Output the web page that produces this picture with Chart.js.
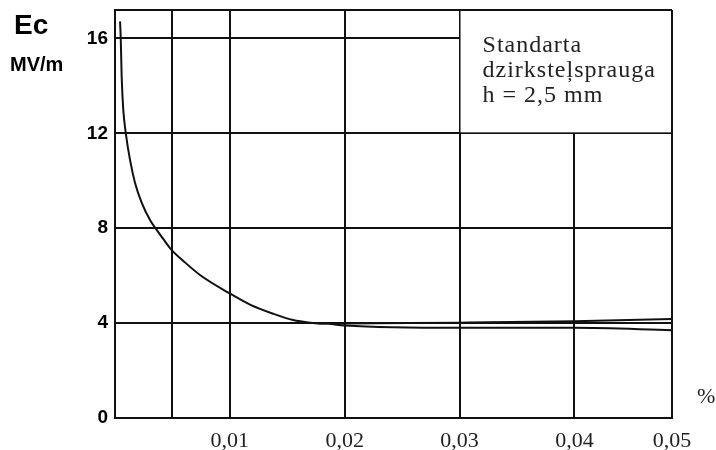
<!DOCTYPE html>
<html>
<head>
<meta charset="utf-8">
<script src="https://cdn.jsdelivr.net/npm/chart.js@4"></script>
<style>
html,body{margin:0;padding:0;background:#fff;}
#wrap{width:716px;height:450px;position:relative;}
</style>
</head>
<body>
<div id="wrap"><canvas id="c" width="716" height="450"></canvas></div>
<script>
// Data
const mainX = [0.00044, 0.00050, 0.00058, 0.00072, 0.00096, 0.0013, 0.00174, 0.00233, 0.00305, 0.00363, 0.0042, 0.0049, 0.0060, 0.0074, 0.00996, 0.0118, 0.0138, 0.0155, 0.0170, 0.0187, 0.0200, 0.0300, 0.0400, 0.0485];
const mainY = [16.72, 16.0, 14.4, 13.0, 11.94, 10.9, 9.92, 9.07, 8.35, 7.93, 7.55, 7.1, 6.6, 6.03, 5.26, 4.77, 4.39, 4.13, 4.02, 3.97, 3.98, 4.02, 4.08, 4.17];
const lowerX = [0.0187, 0.0200, 0.0300, 0.0400, 0.0485];
const lowerY = [3.97, 3.90, 3.80, 3.80, 3.70];
const xTickValues = [0, 0.005, 0.01, 0.02, 0.03, 0.04, 0.0485];
const xTickLabels = ['', '', '0,01', '0,02', '0,03', '0,04', '0,05'];
const yTickValues = [0, 4, 8, 12, 16, 17.2];
const yTickLabels = ['0', '4', '8', '12', '16', ''];
const boxLines = ['Standarta', 'dzirksteļsprauga', 'h = 2,5 mm'];
const boxCorner = {x: 0.03, y: 12};

const toPts = (xs, ys) => xs.map((x, i) => ({x: x, y: ys[i]}));

const overlay = {
  id: 'overlay',
  beforeDatasetsDraw(chart) {
    const {ctx, chartArea, scales} = chart;
    const x0 = scales.x.getPixelForValue(boxCorner.x);
    const y1 = scales.y.getPixelForValue(boxCorner.y);
    ctx.save();
    ctx.fillStyle = '#fff';
    ctx.fillRect(x0 + 1, chartArea.top + 1, chartArea.right - x0 - 2, y1 - chartArea.top - 2);
    ctx.fillStyle = '#222';
    ctx.font = '24px "Liberation Serif", serif';
    ctx.letterSpacing = '1px';
    ctx.textBaseline = 'alphabetic';
    ctx.textAlign = 'left';
    boxLines.forEach((t, i) => ctx.fillText(t, x0 + 23, chartArea.top + 42 + i * 25));
    ctx.restore();
  },
  afterDraw(chart) {
    const {ctx} = chart;
    ctx.save();
    ctx.fillStyle = '#000';
    ctx.textAlign = 'left';
    ctx.textBaseline = 'alphabetic';
    ctx.font = 'bold 28px "Liberation Sans", Arial, sans-serif';
    ctx.fillText('Ec', 14, 34);
    ctx.font = 'bold 20px "Liberation Sans", Arial, sans-serif';
    ctx.fillText('MV/m', 10, 71);
    ctx.font = '22px "Liberation Serif", serif';
    ctx.fillStyle = '#222';
    ctx.fillText('%', 697, 403);
    ctx.restore();
  }
};

new Chart(document.getElementById('c'), {
  type: 'scatter',
  data: {
    datasets: [
      {data: toPts(mainX, mainY), showLine: true, borderColor: '#111', borderWidth: 2, pointRadius: 0, cubicInterpolationMode: 'monotone', fill: false},
      {data: toPts(lowerX, lowerY), showLine: true, borderColor: '#111', borderWidth: 2, pointRadius: 0, cubicInterpolationMode: 'monotone', fill: false}
    ]
  },
  options: {
    responsive: false,
    animation: false,
    layout: {padding: {top: 10, right: 44, left: 0, bottom: 0}},
    plugins: {legend: {display: false}, tooltip: {enabled: false}},
    scales: {
      x: {
        type: 'linear', min: 0, max: 0.0485,
        afterBuildTicks: (s) => { s.ticks = xTickValues.map(v => ({value: v})); },
        afterFit: (s) => { s.height = 32; s.paddingLeft = 0; s.paddingRight = 0; },
        grid: {color: '#111', lineWidth: 2, drawTicks: false},
        border: {color: '#111', width: 2},
        ticks: {
          autoSkip: false, maxRotation: 0, padding: 10, color: '#222',
          font: {family: '"Liberation Serif", serif', size: 22},
          callback: (v, i) => xTickLabels[i]
        }
      },
      y: {
        type: 'linear', min: 0, max: 17.2,
        afterBuildTicks: (s) => { s.ticks = yTickValues.map(v => ({value: v})); },
        afterFit: (s) => { s.width = 115; s.paddingTop = 0; s.paddingBottom = 0; },
        grid: {color: '#111', lineWidth: 2, drawTicks: false},
        border: {color: '#111', width: 2},
        ticks: {
          autoSkip: false, padding: 7, color: '#000',
          font: {family: '"Liberation Sans", Arial, sans-serif', size: 19, weight: 'bold'},
          callback: (v, i) => yTickLabels[i]
        }
      }
    }
  },
  plugins: [overlay]
});
</script>
</body>
</html>
